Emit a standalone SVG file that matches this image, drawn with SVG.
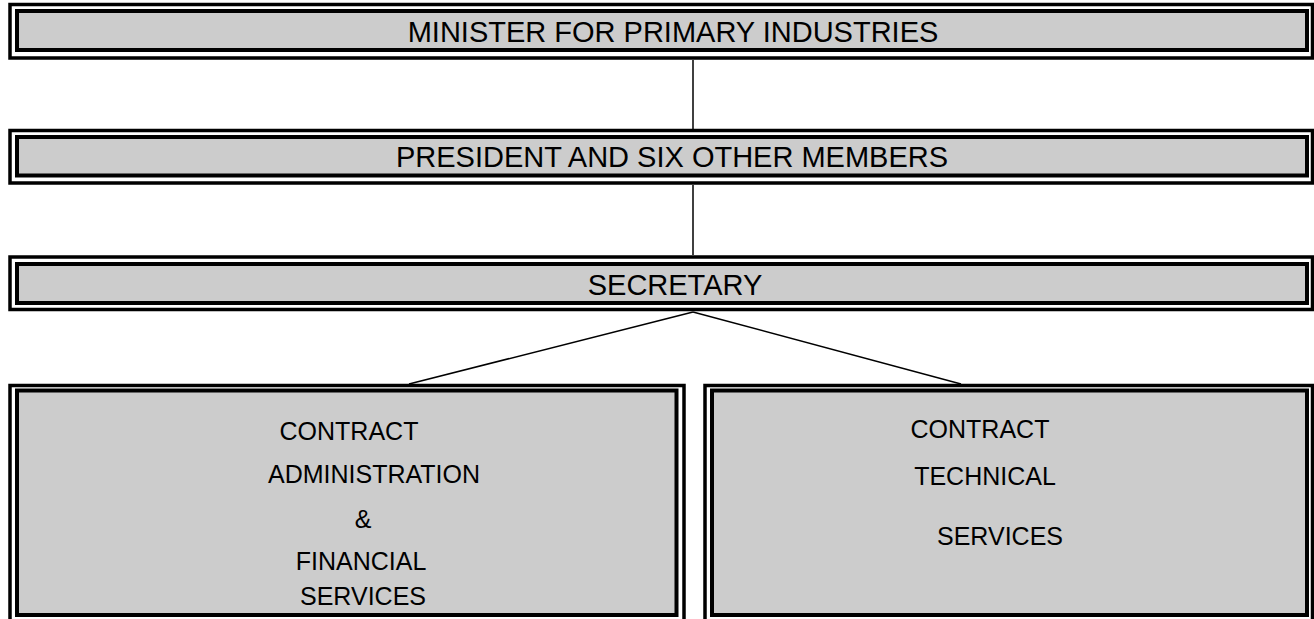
<svg xmlns="http://www.w3.org/2000/svg" width="1314" height="619" viewBox="0 0 1314 619">
<style>
.outer{fill:none;stroke:#000;stroke-width:3.5}
.inner{fill:#cccccc;stroke:#000;stroke-width:4}
.t{font-family:"Liberation Sans",Arial,sans-serif;font-size:25px;fill:#000;text-anchor:middle}
.b{font-size:29px}
.c{stroke:#000;stroke-width:1.5;fill:none}
</style>
<rect width="1314" height="619" fill="#fff"/>
<g id="connectors">
<line class="c" x1="693" y1="60" x2="693" y2="129"/>
<line class="c" x1="693" y1="185" x2="693" y2="255"/>
<line class="c" x1="693" y1="312" x2="409" y2="384"/>
<line class="c" x1="693" y1="312" x2="961" y2="384"/>
</g>
<g id="minister">
<rect class="outer" x="10" y="4.5" width="1302.5" height="53.5"/>
<rect class="inner" x="17" y="11" width="1290" height="39"/>
<text class="t b" x="673" y="42">MINISTER FOR PRIMARY INDUSTRIES</text>
</g>
<g id="president">
<rect class="outer" x="10" y="130.5" width="1302.5" height="52.5"/>
<rect class="inner" x="17" y="137" width="1290" height="38.5"/>
<text class="t b" x="672" y="167">PRESIDENT AND SIX OTHER MEMBERS</text>
</g>
<g id="secretary">
<rect class="outer" x="10" y="257" width="1302.5" height="52.5"/>
<rect class="inner" x="17" y="264" width="1290" height="39"/>
<text class="t b" x="675" y="295">SECRETARY</text>
</g>
<g id="admin">
<rect class="outer" x="10" y="385.5" width="674" height="240"/>
<rect class="inner" x="17" y="390.5" width="659.5" height="224.5"/>
<text class="t" x="349" y="440">CONTRACT</text>
<text class="t" x="374" y="483">ADMINISTRATION</text>
<text class="t" x="363" y="528">&amp;</text>
<text class="t" x="361" y="570">FINANCIAL</text>
<text class="t" x="363" y="605">SERVICES</text>
</g>
<g id="technical">
<rect class="outer" x="705" y="385.5" width="607.5" height="240"/>
<rect class="inner" x="712" y="390.5" width="595" height="224.5"/>
<text class="t" x="980" y="438">CONTRACT</text>
<text class="t" x="985" y="485">TECHNICAL</text>
<text class="t" x="1000" y="545">SERVICES</text>
</g>
</svg>
